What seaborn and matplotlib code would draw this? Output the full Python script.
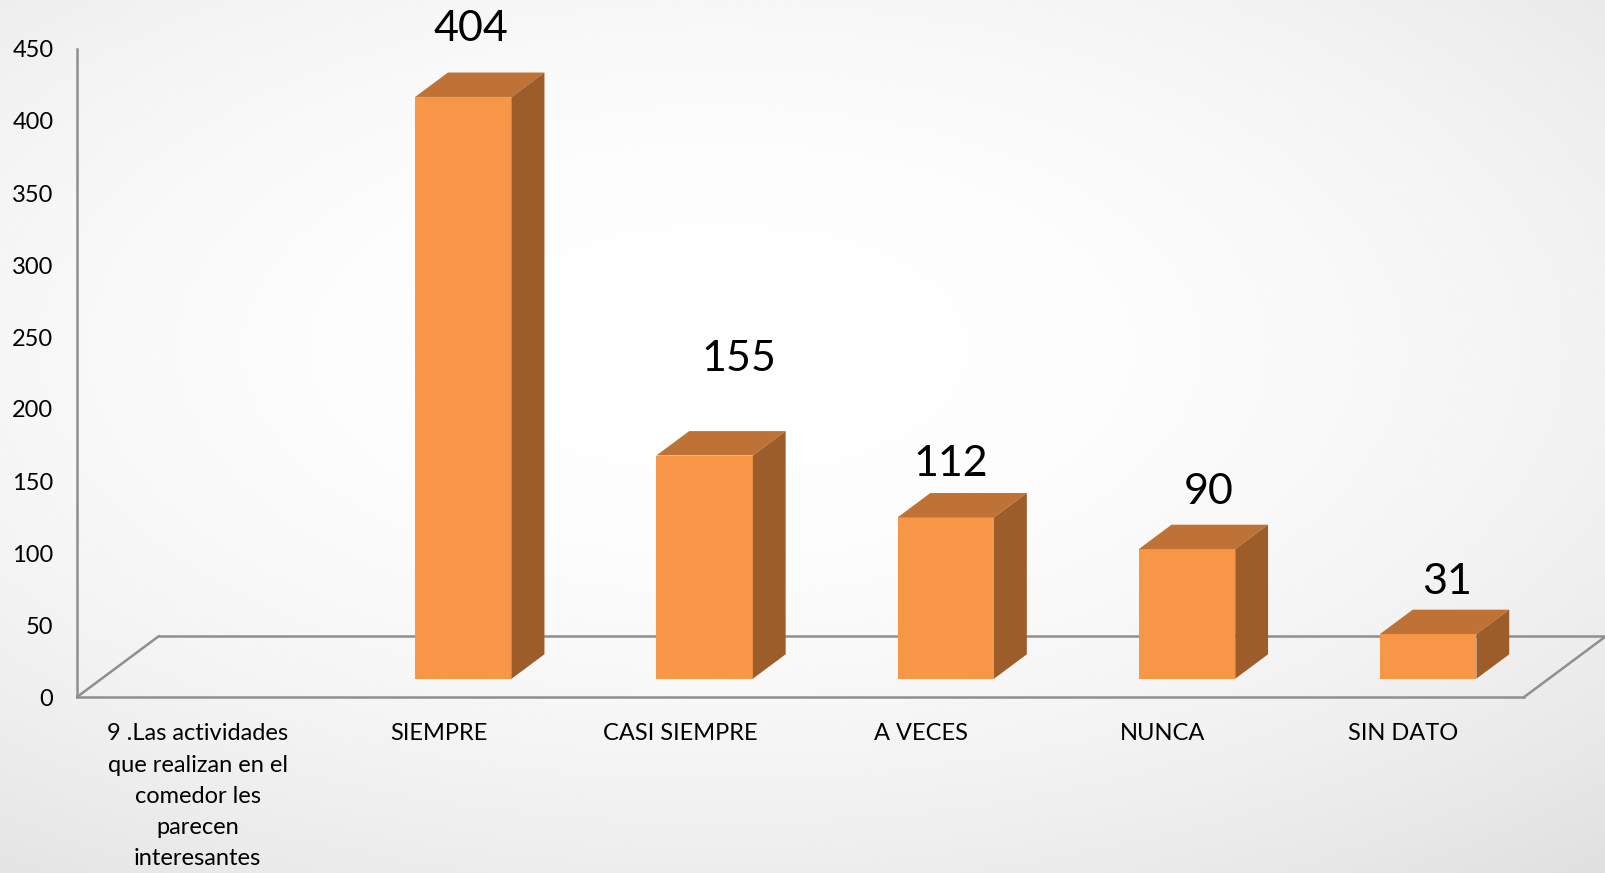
import numpy as np
import pandas as pd
import matplotlib
matplotlib.use("Agg")
import matplotlib.pyplot as plt
import seaborn as sns
from matplotlib.patches import Polygon

# ----------------------------------------------------------
# data
# ----------------------------------------------------------
categories = [
    "9 .Las actividades\nque realizan en el\ncomedor les\nparecen\ninteresantes",
    "SIEMPRE",
    "CASI SIEMPRE",
    "A VECES",
    "NUNCA",
    "SIN DATO",
]
values = [np.nan, 404, 155, 112, 90, 31]
value_labels = ["", "404", "155", "112", "90", "31"]
y_ticks = [0, 50, 100, 150, 200, 250, 300, 350, 400, 450]

# label placement nudges (pixels): x shift, baseline height above the box
label_dx = [0, -9, 18, -11, 5, 2]
label_dy = [0, 32, 60, 17, 21, 16]

sns.set_style("white")
plt.rcParams["font.family"] = ["Lato", "DejaVu Sans"]

W, H = 1605, 873
fig = plt.figure(figsize=(W / 100, H / 100), dpi=100)

# soft grey vignette behind everything
bg = fig.add_axes([0, 0, 1, 1])
bg.axis("off")
yy, xx = np.mgrid[0:1:300j, 0:1:500j]
r = np.sqrt(((xx - 0.45) / 0.8) ** 2 + ((yy - 0.4) / 0.75) ** 2)
shade = 1 - 0.11 * np.clip(r, 0, 1.4) ** 2
bg.imshow(shade, cmap="gray", vmin=0, vmax=1, extent=[0, 1, 0, 1],
          aspect="auto", origin="upper", interpolation="bicubic")
bg.set_xlim(0, 1)
bg.set_ylim(0, 1)

# main axes: front plane, y=0 at pixel row 697, y-axis at column 77
x0_px, y0_px = 77, 697
unit_x = 241.2   # px per category
unit_y = 1.44    # px per value unit
ax = fig.add_axes([x0_px / W, (H - y0_px) / H, 1 - x0_px / W, y0_px / H])
ax.set_facecolor("none")

df = pd.DataFrame({"cat": categories, "val": values})
sns.barplot(data=df, x="cat", y="val", order=categories, color="#F79646",
            saturation=1, width=0.4, ax=ax, zorder=3, linewidth=0)

ax.set_xlim(-0.5, -0.5 + (W - x0_px) / unit_x)
ax.set_ylim(0, y0_px / unit_y)

# oblique depth of the floor
DX = 82 / unit_x
DY = 61 / unit_y
z_front, z_depth = 0.3, 0.4

grey = "#8f8f8f"
n = len(categories)
left, right = -0.5, n - 0.5
ax.plot([left + DX, right + DX], [DY, DY], color=grey, lw=1.8, zorder=1, clip_on=False)
ax.plot([left, left + DX], [0, DY], color=grey, lw=1.8, zorder=1, clip_on=False)
ax.plot([right, right + DX], [0, DY], color=grey, lw=1.8, zorder=1, clip_on=False)

# extrude the seaborn bars into boxes
for p in list(ax.patches):
    h = p.get_height()
    if not np.isfinite(h) or h == 0:
        continue
    x = p.get_x() + z_front * DX
    w = p.get_width()
    b = z_front * DY
    p.set_x(x)
    p.set_y(b)
    ddx, ddy = z_depth * DX, z_depth * DY
    top = [(x, b + h), (x + w, b + h), (x + w + ddx, b + h + ddy), (x + ddx, b + h + ddy)]
    side = [(x + w, b), (x + w + ddx, b + ddy), (x + w + ddx, b + h + ddy), (x + w, b + h)]
    ax.add_patch(Polygon(top, closed=True, facecolor="#BE7235", edgecolor="none", zorder=3))
    ax.add_patch(Polygon(side, closed=True, facecolor="#9C5D2B", edgecolor="none", zorder=3))

# value labels above each box
for i, (v, txt) in enumerate(zip(values, value_labels)):
    if not txt:
        continue
    cx = i + z_front * DX + 0.5 * z_depth * DX + label_dx[i] / unit_x
    cy = v + (z_front + z_depth) * DY + label_dy[i] / unit_y
    ax.text(cx, cy, txt, ha="center", va="baseline", fontsize=31, color="black", zorder=5)

# axes styling
for s in ["top", "right"]:
    ax.spines[s].set_visible(False)
ax.spines["left"].set_bounds(0, 450)
ax.spines["bottom"].set_bounds(left, right)
for s in ["left", "bottom"]:
    ax.spines[s].set_color(grey)
    ax.spines[s].set_linewidth(1.8)
    ax.spines[s].set_zorder(2)

ax.set_yticks(y_ticks)
ax.set_yticklabels([str(t) for t in y_ticks])
ax.tick_params(axis="y", length=5, width=1.5, color=grey, pad=12, labelsize=17, labelcolor="black")
ax.set_xticks(range(n))
ax.set_xticklabels(categories)
ax.set_xticks(np.arange(left, right + 0.01, 1), minor=True)
ax.tick_params(axis="x", which="major", length=0, pad=19, labelsize=17, labelcolor="black")
ax.tick_params(axis="x", which="minor", length=6, width=1.5, color=grey)
for lab in ax.get_xticklabels():
    lab.set_linespacing(1.6)
    lab.set_verticalalignment("top")

ax.set_xlabel("")
ax.set_ylabel("")

fig.savefig("out.png", dpi=100)
